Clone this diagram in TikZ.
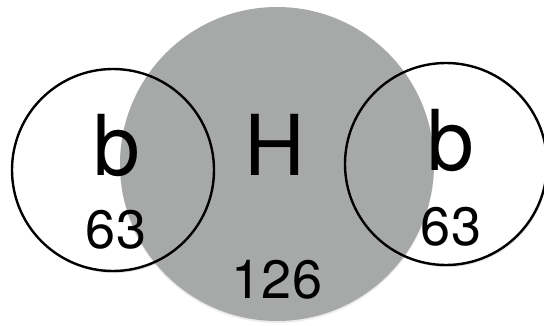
\documentclass[tikz,border=0pt]{standalone}
\usepackage{fontspec}
\setmainfont{TeX Gyre Heros}
\usetikzlibrary{shadows}
\definecolor{hgray}{RGB}{166,169,168}
\begin{document}
\begin{tikzpicture}[x=1pt, y=-1pt,
    disc/.style={circle, inner sep=0pt, minimum size=202pt},
    ring/.style={disc, draw=black, line width=2.4pt},
    big/.style={anchor=base, font=\fontsize{84}{84}\selectfont},
    num/.style={anchor=base, font=\fontsize{54}{54}\selectfont}]
  \useasboundingbox (0,0) rectangle (544,325);

  % White atoms underneath
  \node[disc, fill=white, drop shadow={opacity=0.25, shadow xshift=1pt, shadow yshift=-2pt}] (lb) at (113,170) {};
  \node[disc, fill=white, drop shadow={opacity=0.25, shadow xshift=1pt, shadow yshift=-2pt}] (rb) at (446,164) {};

  % Central gray atom
  \node[circle, inner sep=0pt, minimum size=314pt, fill=hgray,
        drop shadow={opacity=0.15, shadow xshift=0pt, shadow yshift=-2pt}] (hc) at (277,164) {};

  % Outlines on top
  \node[ring] (lbo) at (lb) {};
  \node[ring] (rbo) at (rb) {};

  % Labels
  \node[big] (lbl) at (117,175) {b};
  \node[big] (hl) at (275,175) {H};
  \node[big] (rbl) at (451,170) {b};
  \node[num] (ln) at (116,248) {63};
  \node[num] (rn) at (451,245) {63};
  \node[num] (hn) at (277,298) {126};
\end{tikzpicture}
\end{document}
